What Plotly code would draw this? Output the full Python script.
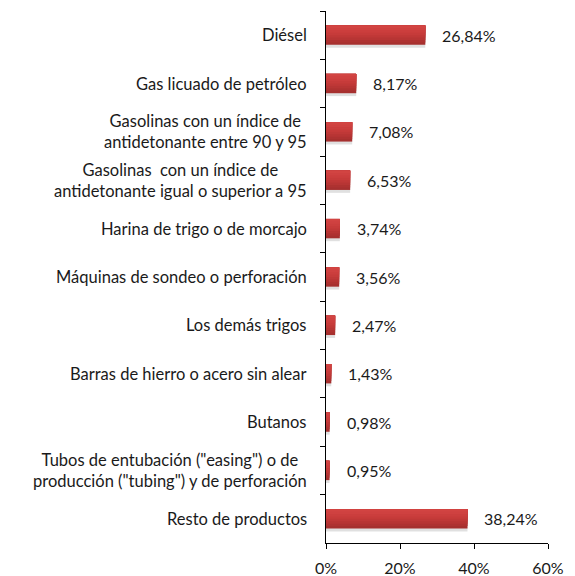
import plotly.graph_objects as go

categories = [
    "Diésel",
    "Gas licuado de petróleo",
    "Gasolinas con un índice de<br>antidetonante entre 90 y 95",
    "Gasolinas  con un índice de<br>antidetonante igual o superior a 95",
    "Harina de trigo o de morcajo",
    "Máquinas de sondeo o perforación",
    "Los demás trigos",
    "Barras de hierro o acero sin alear",
    "Butanos",
    "Tubos de entubación (\"easing\") o de<br>producción (\"tubing\") y de perforación",
    "Resto de productos",
]
values = [26.84, 8.17, 7.08, 6.53, 3.74, 3.56, 2.47, 1.43, 0.98, 0.95, 38.24]
value_labels = ["26,84%", "8,17%", "7,08%", "6,53%", "3,74%", "3,56%",
                "2,47%", "1,43%", "0,98%", "0,95%", "38,24%"]
x_ticks = [0, 20, 40, 60]
x_tick_labels = ["0%", "20%", "40%", "60%"]

FONT = "Lato"
BAR_W = 0.40
TXT = "#1a1a1a"

fig = go.Figure()

# soft shadow
fig.add_trace(go.Bar(
    y=categories, x=values, orientation="h",
    marker=dict(color="rgba(0,0,0,0.12)", line=dict(width=0)),
    width=BAR_W, offset=-BAR_W / 2 + 0.06, hoverinfo="skip", showlegend=False,
))

# gradient: nested layers, darkest (full bar) first, lighter ones cover the upper part
layer_colors = ["#A6302F", "#AE3231", "#B73534", "#BF3837", "#C63B3A",
                "#CB3E3D", "#CF4140", "#D24442"]
n = len(layer_colors)
for i, col in enumerate(layer_colors):
    frac = (n - i) / n
    fig.add_trace(go.Bar(
        y=categories, x=values, orientation="h",
        marker=dict(color=col, line=dict(width=0)),
        width=BAR_W * frac, offset=-BAR_W / 2,
        hoverinfo="skip", showlegend=False,
    ))

annotations = []
for c, v, t in zip(categories, values, value_labels):
    annotations.append(dict(
        x=v, y=c, xref="x", yref="y", text=t, showarrow=False,
        xanchor="left", xshift=15, font=dict(family=FONT, size=16, color=TXT),
    ))
    annotations.append(dict(
        x=0, y=c, xref="paper", yref="y", text=c, showarrow=False,
        xanchor="right", xshift=-17, align="center",
        font=dict(family=FONT, size=16.5, color=TXT),
    ))

fig.update_layout(
    width=575, height=576,
    margin=dict(l=326, r=27, t=11, b=33, autoexpand=False),
    paper_bgcolor="white", plot_bgcolor="white",
    barmode="overlay",
    showlegend=False,
    annotations=annotations,
    font=dict(family=FONT, size=16, color=TXT),
)
fig.update_xaxes(
    range=[0, 60], tickvals=x_ticks, ticktext=x_tick_labels,
    showgrid=False, zeroline=False, showline=True, linecolor="black", linewidth=1,
    ticks="outside", ticklen=5, tickcolor="black", ticklabelstandoff=6,
    tickfont=dict(family=FONT, size=16, color=TXT), automargin=False,
)
fig.update_yaxes(
    categoryorder="array", categoryarray=categories, autorange="reversed",
    showticklabels=False, showgrid=False, zeroline=False,
    showline=True, linecolor="black", linewidth=1, automargin=False,
    ticks="outside", ticklen=5, tickcolor="black", tickson="boundaries",
)

fig.write_html(
    "out.html",
    config={"displayModeBar": False},
    post_script="document.body.style.margin='0';document.body.style.overflow='hidden';",
)
